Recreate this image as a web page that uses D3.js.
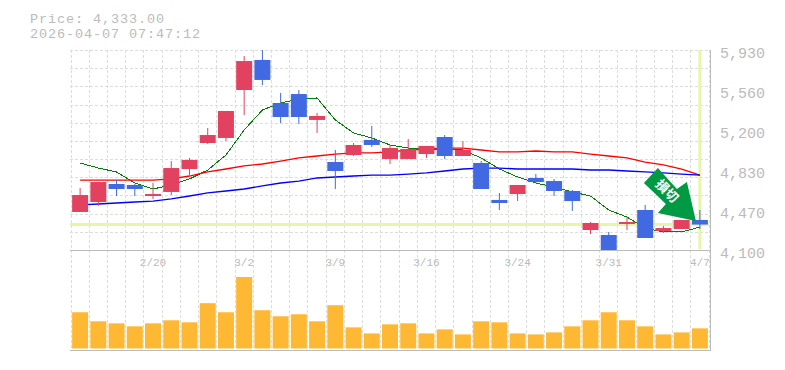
<!DOCTYPE html>
<html>
<head>
<meta charset="utf-8">
<script src="https://cdn.jsdelivr.net/npm/d3@7"></script>
<style>
    html, body { margin: 0; padding: 0; background: #fff; }
    svg { display: block; }
    text { font-family: "Liberation Mono", monospace; fill: #bbb; }
</style>
</head>
<body>
<svg id="chart" width="785" height="370"></svg>
<script>
const dates = ["2/16","2/17","2/18","2/19","2/20","2/24","2/25","2/26","2/27","3/2","3/3","3/4","3/5","3/6","3/9","3/10","3/11","3/12","3/13","3/16","3/17","3/18","3/19","3/23","3/24","3/25","3/26","3/27","3/30","3/31","4/1","4/2","4/3","4/6","4/7"];
const tickDates = ["2/20","3/2","3/9","3/16","3/24","3/31","4/7"];
const priceTicks = [4100,4470,4830,5200,5560,5930];

const opens  = [4448,4539,4704,4695,4594,4631,4841,5079,5125,5564,5839,5445,5527,5290,4905,4969,5107,4933,4933,4978,5134,4960,4896,4558,4612,4759,4731,4640,4283,4237,4338,4466,4274,4292,4375];
const closes = [4603,4722,4658,4658,4612,4850,4924,5152,5372,5829,5656,5317,5317,5326,4823,5061,5061,5033,5024,5052,4960,5015,4658,4530,4695,4722,4640,4548,4347,4100,4356,4210,4301,4375,4333];
const highs  = [4667,4722,4741,4704,4713,4914,4942,5216,5372,5875,5930,5537,5564,5354,5015,5079,5235,5061,5116,5052,5152,5097,4914,4622,4695,4795,4750,4649,4356,4265,4402,4512,4320,4375,4466];
const lows   = [4448,4503,4594,4594,4567,4603,4786,5070,5097,5335,5610,5262,5253,5171,4658,4960,5042,4887,4933,4942,4933,4960,4658,4466,4548,4713,4594,4457,4246,4100,4283,4210,4256,4292,4292];

const maShort = [4896,4850,4814,4713,4658,4695,4750,4832,4969,5198,5381,5445,5482,5491,5290,5171,5125,5061,5033,5024,5024,5015,4942,4841,4768,4713,4676,4631,4594,4466,4402,4301,4265,4265,4310];
const maMid   = [4740,4740,4740,4740,4740,4750,4777,4814,4841,4869,4887,4914,4942,4960,4978,4988,4988,4997,5015,5024,5033,5033,5015,4997,4997,5006,4997,4997,4978,4960,4942,4905,4878,4841,4786];
const maLong  = [4512,4521,4530,4539,4548,4567,4594,4622,4640,4658,4686,4713,4731,4759,4768,4777,4786,4786,4795,4805,4823,4841,4850,4850,4841,4841,4841,4841,4832,4832,4823,4814,4805,4795,4786];

const volumes = [36,27,25,22,25,28,26,45,36,71,38,32,34,27,43,21,15,24,25,15,19,14,27,26,15,14,16,22,28,36,28,22,14,16,20];

const lastPrice = 4333;

const svg = d3.select("#chart");
const plotLeft = 71, plotRight = 709;
const plotTop = 50, priceBottom = 250, volBottom = 348.5, plotBottom = 350;

const xScale = d3.scaleBand().domain(dates).range([plotLeft, plotRight]);
const yScale = d3.scaleLinear().domain([4100, 5930]).range([priceBottom, plotTop]);
const vScale = d3.scaleLinear().domain([0, 71]).range([volBottom, 277]);
const xMid = d => xScale(d) + xScale.bandwidth() / 2;
const bodyW = 16;

// grid
const grid = svg.append("g").attr("stroke", "#ddd").attr("stroke-dasharray", "3,2");
d3.range(0, 36).forEach(i => {
    const x = Math.floor(plotLeft + i * xScale.bandwidth()) + 0.5;
    grid.append("line").attr("x1", x).attr("x2", x).attr("y1", plotTop).attr("y2", plotBottom);
});
d3.range(0, 11).forEach(i => {
    const y = Math.round(plotTop + i * (priceBottom - plotTop) / 11) + 0.5;
    grid.append("line").attr("x1", plotLeft - 1).attr("x2", plotRight).attr("y1", y).attr("y2", y);
});

// axis borders
const border = svg.append("g").attr("stroke", "#bbb");
border.append("line").attr("x1", 70).attr("x2", 710).attr("y1", priceBottom + 0.5).attr("y2", priceBottom + 0.5);
border.append("line").attr("x1", 70).attr("x2", 710).attr("y1", plotBottom + 0.5).attr("y2", plotBottom + 0.5);
border.append("line").attr("x1", 710.5).attr("x2", 710.5).attr("y1", plotTop).attr("y2", plotBottom + 1);

// current price and latest date markers
svg.append("line")
    .attr("x1", 70).attr("x2", 709)
    .attr("y1", yScale(lastPrice)).attr("y2", yScale(lastPrice))
    .attr("stroke", "#e4f6aa").attr("stroke-width", 3);
svg.append("line")
    .attr("x1", xMid("4/7")).attr("x2", xMid("4/7"))
    .attr("y1", plotTop).attr("y2", priceBottom - 1)
    .attr("stroke", "#e4f6aa").attr("stroke-width", 3);

// moving averages
const maLine = d3.line().x((d, i) => xMid(dates[i])).y(d => yScale(d));
svg.append("path").attr("d", maLine(maShort))
    .attr("fill", "none").attr("stroke", "#008000").attr("stroke-width", 1)
    .attr("shape-rendering", "crispEdges");
[[maMid, "#ff0000"], [maLong, "#0000ff"]].forEach(([vals, color]) => {
    svg.append("path").attr("d", maLine(vals))
        .attr("fill", "none").attr("stroke", color).attr("stroke-width", 1.3);
});

// candles
const upColor = "#e2425f", downColor = "#4169e1";
const candles = svg.append("g").selectAll("g").data(dates).enter().append("g")
    .attr("fill", (d, i) => closes[i] >= opens[i] ? upColor : downColor)
    .attr("stroke", (d, i) => closes[i] >= opens[i] ? upColor : downColor);
candles.append("line")
    .attr("x1", d => xMid(d)).attr("x2", d => xMid(d))
    .attr("y1", (d, i) => yScale(highs[i])).attr("y2", (d, i) => yScale(lows[i]))
    .attr("stroke-width", 1);
candles.append("rect")
    .attr("stroke", "none")
    .attr("x", d => xMid(d) - bodyW / 2)
    .attr("width", bodyW)
    .attr("y", (d, i) => yScale(Math.max(opens[i], closes[i])))
    .attr("height", (d, i) => Math.abs(yScale(opens[i]) - yScale(closes[i])));

// volume
svg.append("g").selectAll("rect").data(dates).enter().append("rect")
    .attr("x", d => xMid(d) - bodyW / 2)
    .attr("width", bodyW)
    .attr("y", (d, i) => vScale(volumes[i]))
    .attr("height", (d, i) => volBottom - vScale(volumes[i]))
    .attr("fill", "#ffb833");

// signal arrow, tip sits just left of the last candle
const arrow = svg.append("g")
    .attr("transform", `translate(${xMid("4/7") - 4},${yScale(lastPrice) - 3.5})`);
arrow.append("path")
    .attr("d", "M0,0 L-38,-8 L-30,-17 L-52,-38 L-38,-53 L-19,-32 L-9,-39 Z")
    .attr("fill", "#009944");
arrow.append("text")
    .attr("transform", "translate(-29,-30) rotate(45)")
    .attr("text-anchor", "middle")
    .attr("dy", "0.35em")
    .style("font-family", "'Noto Sans CJK JP'")
    .style("font-size", "13px")
    .style("font-weight", "bold")
    .style("fill", "#fff")
    .text("損切");

// price labels
svg.append("g").selectAll("text").data(priceTicks).enter().append("text")
    .attr("x", 720).attr("y", d => yScale(d) + 8)
    .style("font-size", "15px")
    .text(d3.format(","));

// date labels
svg.append("g").selectAll("text").data(tickDates).enter().append("text")
    .attr("x", d => xMid(d)).attr("y", 266)
    .attr("text-anchor", "middle")
    .style("font-size", "11px")
    .text(d => d);

// header
svg.append("text").attr("x", 30).attr("y", 22.5)
    .style("font-size", "13.5px").style("letter-spacing", "0.9px")
    .text("Price: " + d3.format(",.2f")(lastPrice));
svg.append("text").attr("x", 30).attr("y", 38)
    .style("font-size", "13.5px").style("letter-spacing", "0.9px")
    .text("2026-04-07 07:47:12");
</script>
</body>
</html>
